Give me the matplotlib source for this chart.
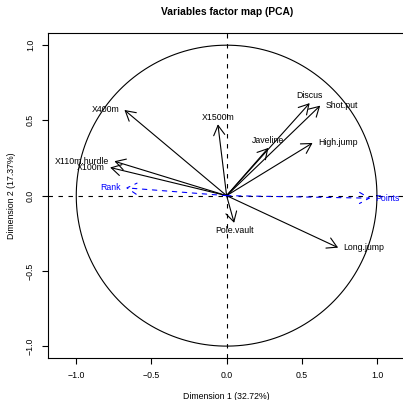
import numpy as np
import matplotlib
matplotlib.use("Agg")
import matplotlib.pyplot as plt

plt.rcParams['font.family'] = ['Liberation Sans', 'DejaVu Sans']

# Active variables (coordinates on dims 1 and 2)
variables = ["X100m", "Long.jump", "Shot.put", "High.jump", "X400m",
             "X110m.hurdle", "Discus", "Pole.vault", "Javeline", "X1500m"]
dim1 = [-0.7747, 0.7418, 0.6225, 0.5719, -0.6796, -0.7463, 0.5524, 0.0503, 0.2778, -0.0579]
dim2 = [0.1871, -0.3455, 0.5983, 0.3502, 0.5694, 0.2287, 0.6149, -0.1807, 0.3173, 0.4742]
label_pos = [2, 4, 4, 4, 2, 2, 3, 1, 3, 3]   # R text pos: 1 below, 2 left, 3 above, 4 right

# Supplementary quantitative variables
supp_vars = ["Rank", "Points"]
supp_dim1 = [-0.6705, 0.9563]
supp_dim2 = [0.0520, -0.0166]
supp_pos = [2, 4]

title = "Variables factor map (PCA)"
xlabel = "Dimension 1 (32.72%)"
ylabel = "Dimension 2 (17.37%)"
ticks = [-1.0, -0.5, 0.0, 0.5, 1.0]

FS = 6.3
DASH = (0, (4.0, 5.0))

fig = plt.figure(figsize=(4.03, 4.0), dpi=100)
ax = fig.add_axes([48 / 403, (400 - 357.7) / 400, (405.5 - 48) / 403, (357.7 - 33) / 400])
ax.set_xlim(-1.188, 1.190)
ax.set_ylim(-1.077, 1.081)

# unit circle
t = np.linspace(0, 2 * np.pi, 400)
ax.plot(np.cos(t), np.sin(t), color="black", lw=0.8)

# dashed axes through origin
ax.axhline(0, color="black", lw=0.8, ls=DASH)
ax.axvline(0, color="black", lw=0.8, ls=DASH)

offsets = {1: ((0, -5.2), "center", "center"),
           2: ((-3.8, 0), "right", "center"),
           3: ((0, 5.2), "center", "center"),
           4: ((3.8, 0), "left", "center")}

def draw(names, xs, ys, poss, color, ls):
    for n, x, y, p in zip(names, xs, ys, poss):
        ax.annotate("", xy=(x, y), xytext=(0, 0),
                    arrowprops=dict(arrowstyle="->,head_length=0.7,head_width=0.4",
                                    color=color, lw=0.8, linestyle=ls,
                                    shrinkA=0, shrinkB=0, mutation_scale=10))
        off, ha, va = offsets[p]
        ax.annotate(n, xy=(x, y), xytext=off, textcoords="offset points",
                    ha=ha, va=va, fontsize=FS, color=color)

draw(variables, dim1, dim2, label_pos, "black", "-")
draw(supp_vars, supp_dim1, supp_dim2, supp_pos, "#0000FF", DASH)

ax.set_xticks(ticks)
ax.set_yticks(ticks)
ax.set_xticklabels([f"{v:.1f}".replace("-", "\u2212") for v in ticks], fontsize=FS)
ax.set_yticklabels([f"{v:.1f}".replace("-", "\u2212") for v in ticks], fontsize=FS,
                   rotation=90, va="center")
ax.tick_params(direction="out", length=4.5, width=0.8, pad=5)
for s in ax.spines.values():
    s.set_linewidth(0.8)

ax.set_xlabel(xlabel, fontsize=FS, labelpad=9)
ax.set_ylabel(ylabel, fontsize=FS, labelpad=7)
fig.text(226.7 / 403, 0.97, title, ha="center", va="center", fontsize=7.4, fontweight="bold")

fig.savefig("out.png", dpi=100)
